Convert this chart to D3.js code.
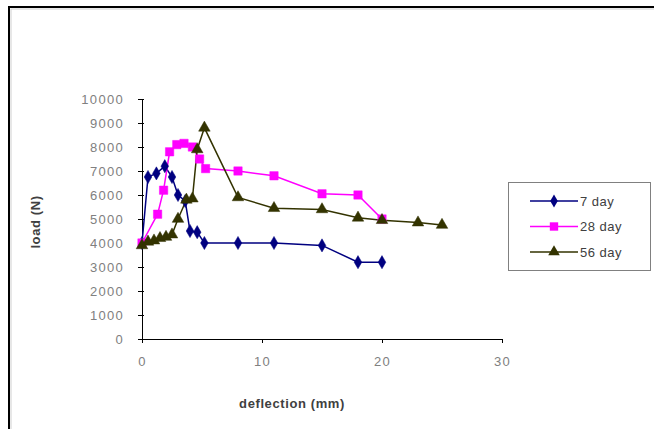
<!DOCTYPE html>
<html>
<head>
<meta charset="utf-8">
<script src="https://cdn.jsdelivr.net/npm/d3@7"></script>
<style>
  html, body { margin: 0; padding: 0; background: #fff; }
  svg { display: block; }
  text { font-family: "Liberation Sans", Arial, sans-serif; }
</style>
</head>
<body>
<svg id="chart" width="654" height="429"></svg>
<script>
// ---- data ----
const seriesNames = ["7 day", "28 day", "56 day"];
const day7X  = [0, 0.5, 1.2, 1.9, 2.5, 3.0, 3.6, 4.0, 4.6, 5.2, 8, 11, 15, 18, 20];
const day7Y  = [4000, 6750, 6900, 7200, 6750, 6000, 5750, 4500, 4450, 4000, 4000, 4000, 3900, 3200, 3200];
const day28X = [0, 1.3, 1.8, 2.3, 2.9, 3.5, 4.2, 4.8, 5.3, 8, 11, 15, 18, 20];
const day28Y = [4000, 5200, 6200, 7800, 8100, 8150, 8000, 7500, 7100, 7000, 6800, 6050, 6000, 5000];
const day56X = [0, 0.5, 1.0, 1.5, 2.0, 2.5, 3.0, 3.7, 4.2, 4.6, 5.2, 8, 11, 15, 18, 20, 23, 25];
const day56Y = [3900, 4050, 4100, 4200, 4250, 4350, 5000, 5800, 5850, 7900, 8800, 5900, 5450, 5400, 5050, 4950, 4850, 4750];
const xTicks = [0, 10, 20, 30];
const yTicks = [0, 1000, 2000, 3000, 4000, 5000, 6000, 7000, 8000, 9000, 10000];
const xLabel = "deflection (mm)";
const yLabel = "load (N)";

const colors = ["#000080", "#FF00FF", "#333300"];
const symbols = [d3.symbolDiamond, d3.symbolSquare, d3.symbolTriangle];
const symSizes = [50, 70, 58];

const series = [
  { name: seriesNames[0], pts: day7X.map((x, i) => ({ x, y: day7Y[i] })) },
  { name: seriesNames[1], pts: day28X.map((x, i) => ({ x, y: day28Y[i] })) },
  { name: seriesNames[2], pts: day56X.map((x, i) => ({ x, y: day56Y[i] })) }
];

const svg = d3.select("#chart");

// outer frame
svg.append("rect").attr("x", 9).attr("y", 7).attr("width", 700).attr("height", 500)
  .attr("fill", "#fff").attr("stroke", "#000").attr("stroke-width", 2);
svg.append("rect").attr("x", 11).attr("y", 9).attr("width", 700).attr("height", 500)
  .attr("fill", "none").attr("stroke", "#d0d0d0").attr("stroke-width", 1);

const x = d3.scaleLinear().domain([0, 30]).range([142, 502]);
const y = d3.scaleLinear().domain([0, 10000]).range([339, 99]);

// axes
const fmt = d3.format("d");
const xAxis = d3.axisBottom(x).tickValues(xTicks).tickFormat(fmt).tickSize(4).tickPadding(14);
const gx = svg.append("g").attr("transform", "translate(0,339)").call(xAxis);
const yAxis = d3.axisLeft(y).tickValues(yTicks).tickFormat(fmt).tickSize(4).tickPadding(14);
const gy = svg.append("g").attr("transform", "translate(142,0)").call(yAxis);
[gx, gy].forEach(g => {
  g.select(".domain").attr("stroke", "#000").attr("stroke-width", 1);
  g.selectAll(".tick line").attr("stroke", "#000");
  g.selectAll(".tick text").attr("fill", "#808080").attr("font-size", 13)
    .attr("letter-spacing", "1.3px")
    .attr("font-family", "'Liberation Sans', Arial, sans-serif");
});
gy.selectAll(".tick line").attr("x1", 2);

// axis titles
svg.append("text").attr("x", 292).attr("y", 408).attr("text-anchor", "middle")
  .attr("font-size", 13).attr("font-weight", "bold").attr("letter-spacing", "0.6px")
  .attr("fill", "#404040").text(xLabel);
svg.append("text").attr("transform", "translate(40,222) rotate(-90)").attr("text-anchor", "middle")
  .attr("font-size", 13).attr("font-weight", "bold").attr("letter-spacing", "0.6px")
  .attr("fill", "#404040").text(yLabel);

// lines
const line = d3.line().x(d => x(d.x)).y(d => y(d.y));
series.forEach((s, i) => {
  svg.append("path").datum(s.pts).attr("d", line)
    .attr("fill", "none").attr("stroke", colors[i]).attr("stroke-width", 1.5);
});
// markers
series.forEach((s, i) => {
  svg.append("g").selectAll("path").data(s.pts).join("path")
    .attr("transform", d => `translate(${x(d.x)},${y(d.y)})`)
    .attr("d", d3.symbol().type(symbols[i]).size(symSizes[i]))
    .attr("fill", colors[i]).attr("stroke", colors[i]).attr("stroke-width", 0.5);
});

// legend
const lg = svg.append("g");
lg.append("rect").attr("x", 508.5).attr("y", 182.5).attr("width", 142).attr("height", 88)
  .attr("fill", "#fff").attr("stroke", "#808080").attr("stroke-width", 1);
seriesNames.forEach((n, i) => {
  const yy = 201 + i * 25.5;
  lg.append("line").attr("x1", 530).attr("x2", 578).attr("y1", yy).attr("y2", yy)
    .attr("stroke", colors[i]).attr("stroke-width", 1.5);
  lg.append("path").attr("transform", `translate(554,${yy})`)
    .attr("d", d3.symbol().type(symbols[i]).size(symSizes[i])).attr("fill", colors[i]);
  lg.append("text").attr("x", 580).attr("y", yy + 4.5).attr("font-size", 13)
    .attr("letter-spacing", "0.5px").attr("fill", "#404040").text(n);
});
</script>
</body>
</html>
